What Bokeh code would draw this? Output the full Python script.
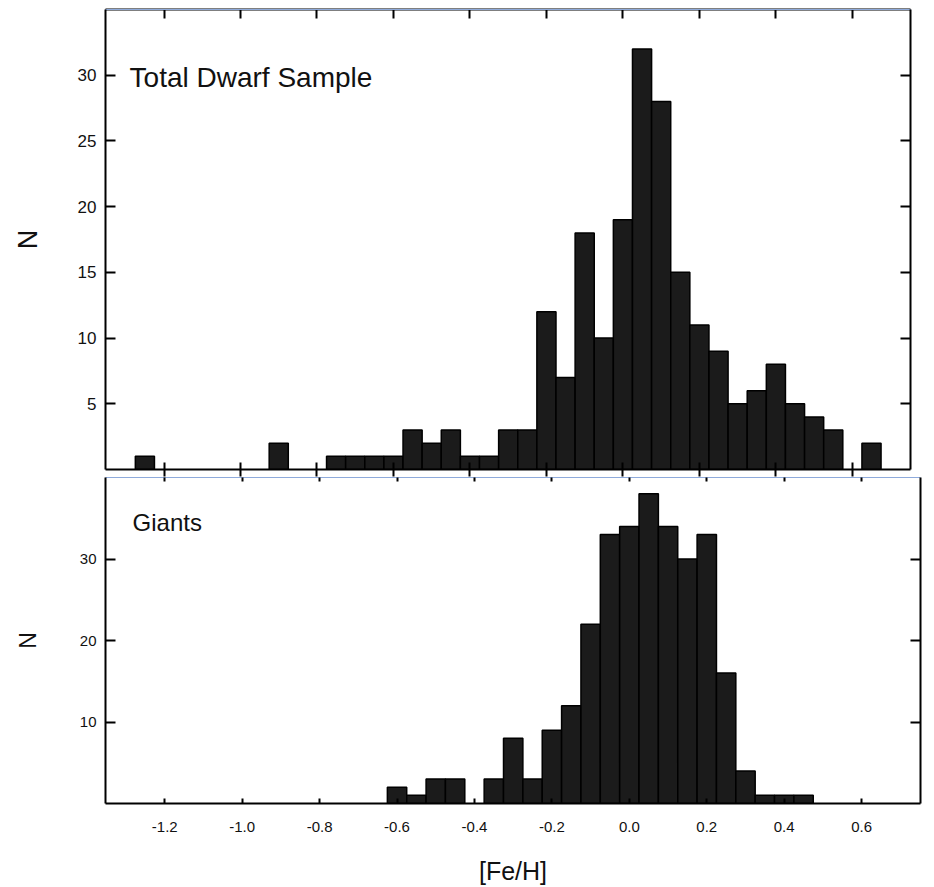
from bokeh.plotting import figure
from bokeh.models import Range1d, LinearAxis, FixedTicker, Label
from bokeh.layouts import column
from bokeh.embed import file_html
from bokeh.resources import INLINE

# ---- data ----
bin_width = 0.05

dwarf_feh = [-1.25, -0.90, -0.75, -0.70, -0.65, -0.60, -0.55, -0.50, -0.45, -0.40,
             -0.35, -0.30, -0.25, -0.20, -0.15, -0.10, -0.05, 0.00, 0.05, 0.10,
             0.15, 0.20, 0.25, 0.30, 0.35, 0.40, 0.45, 0.50, 0.55, 0.65]
dwarf_n = [1, 2, 1, 1, 1, 1, 3, 2, 3, 1,
           1, 3, 3, 12, 7, 18, 10, 19, 32, 28,
           15, 11, 9, 5, 6, 8, 5, 4, 3, 2]

giant_feh = [-0.60, -0.55, -0.50, -0.45, -0.35, -0.30, -0.25, -0.20, -0.15, -0.10,
             -0.05, 0.00, 0.05, 0.10, 0.15, 0.20, 0.25, 0.30, 0.35, 0.40, 0.45]
giant_n = [2, 1, 3, 3, 3, 8, 3, 9, 12, 22,
           33, 34, 38, 34, 30, 33, 16, 4, 1, 1, 1]

x_ticks = [-1.2, -1.0, -0.8, -0.6, -0.4, -0.2, 0.0, 0.2, 0.4, 0.6]
x_tick_labels = ["-1.2", "-1.0", "-0.8", "-0.6", "-0.4", "-0.2", "0.0", "0.2", "0.4", "0.6"]
dwarf_y_ticks = [5, 10, 15, 20, 25, 30]
giant_y_ticks = [10, 20, 30]

REG = "Liberation Sans, Arial, sans-serif"
INK = "#111111"
BAR = "#1b1b1b"
BLUE = "#8eaadb"


def style_axis(ax, ticks, tick_in, tick_out, labels=None, size="14px",
               standoff=8, line_color="black", line_width=2, tick_color="black"):
    ax.ticker = FixedTicker(ticks=ticks)
    ax.minor_tick_line_color = None
    ax.major_tick_in = tick_in
    ax.major_tick_out = tick_out
    ax.major_tick_line_width = 2
    ax.major_tick_line_color = tick_color
    ax.axis_line_color = line_color
    ax.axis_line_width = line_width
    if labels is None:
        # tick labels not drawn at all
        ax.major_label_text_color = None
        ax.major_label_text_font_size = "1px"
        ax.major_label_standoff = 0
    else:
        ax.major_label_overrides = labels
        ax.major_label_text_font = REG
        ax.major_label_text_font_size = size
        ax.major_label_text_color = INK
        ax.major_label_standoff = standoff


def axis_title(ax, text, size, standoff):
    ax.axis_label = text
    ax.axis_label_text_font = REG
    ax.axis_label_text_font_size = size
    ax.axis_label_text_font_style = "normal"
    ax.axis_label_text_color = INK
    ax.axis_label_standoff = standoff


# ---- top panel: dwarfs ----
p1 = figure(frame_width=805, frame_height=460,
            x_range=Range1d(-1.353, 0.752), y_range=Range1d(0, 35),
            output_backend="svg", toolbar_location=None,
            min_border_left=105, min_border_right=5, min_border_top=9, min_border_bottom=8)
p1.outline_line_color = None
p1.grid.visible = False
p1.vbar(x=dwarf_feh, top=dwarf_n, bottom=0, width=bin_width,
        fill_color=BAR, line_color="black", line_width=1.5)

style_axis(p1.xaxis[0], x_ticks, 7, 7)
style_axis(p1.yaxis[0], dwarf_y_ticks, 10, 0,
           labels={t: str(t) for t in dwarf_y_ticks}, size="17px", standoff=9)
axis_title(p1.yaxis[0], "N", "27px", 32)

top1 = LinearAxis()
style_axis(top1, x_ticks, 9, 0)
top1.major_label_standoff = 3
p1.add_layout(top1, "above")
blue1 = LinearAxis()
style_axis(blue1, x_ticks, 0, 0, line_color=BLUE, line_width=1, tick_color=None)
p1.add_layout(blue1, "above")
right1 = LinearAxis()
style_axis(right1, dwarf_y_ticks, 10, 0)
p1.add_layout(right1, "right")

p1.add_layout(Label(x=-1.29, y=29.8, text="Total Dwarf Sample", text_font=REG,
                    text_font_size="28px", text_color=INK, text_baseline="alphabetic"))

# ---- bottom panel: giants ----
p2 = figure(frame_width=815, frame_height=326,
            x_range=Range1d(-1.353, 0.752), y_range=Range1d(0, 40),
            output_backend="svg", toolbar_location=None,
            min_border_left=104, min_border_right=5, min_border_top=0, min_border_bottom=0)
p2.outline_line_color = None
p2.grid.visible = False
p2.vbar(x=giant_feh, top=giant_n, bottom=0, width=bin_width,
        fill_color=BAR, line_color="black", line_width=1.5)

style_axis(p2.xaxis[0], x_ticks, 5, 0,
           labels=dict(zip(x_ticks, x_tick_labels)), size="15px", standoff=18)
axis_title(p2.xaxis[0], "[Fe/H]", "25px", 22)

style_axis(p2.yaxis[0], giant_y_ticks, 10, 0,
           labels={t: str(t) for t in giant_y_ticks}, size="15px", standoff=9)
axis_title(p2.yaxis[0], "N", "23px", 36)

top2 = LinearAxis()
style_axis(top2, x_ticks, 4, 0, line_color=BLUE, line_width=1)
p2.add_layout(top2, "above")
right2 = LinearAxis()
style_axis(right2, giant_y_ticks, 10, 0)
p2.add_layout(right2, "right")

p2.add_layout(Label(x=-1.283, y=34.5, text="Giants", text_font=REG,
                    text_font_size="24px", text_color=INK, text_baseline="alphabetic"))

layout = column(p1, p2, spacing=0)
open("out.html", "w").write(file_html(layout, INLINE))
